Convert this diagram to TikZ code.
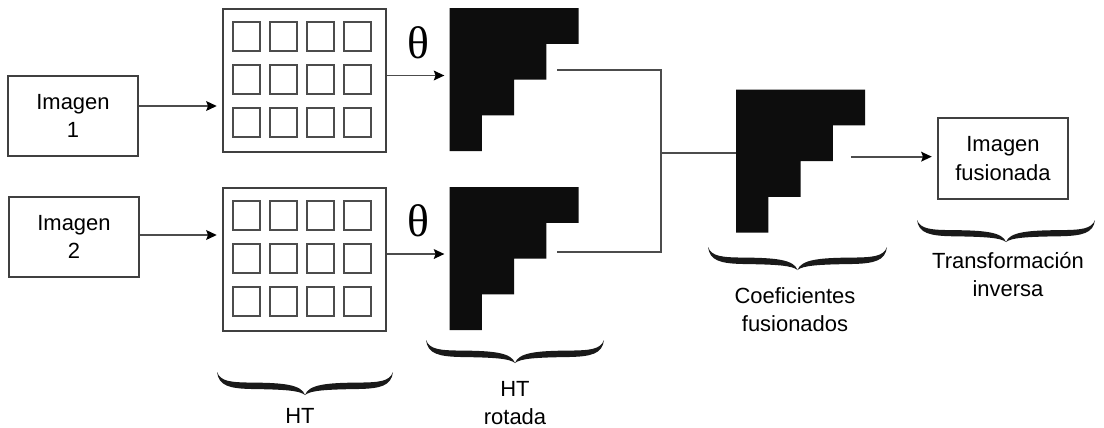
\documentclass[tikz,border=0pt]{standalone}
\usepackage{fontspec}
\setmainfont{Liberation Sans}
\newfontfamily\thetafont{Liberation Serif}
\usetikzlibrary{calc,arrows.meta}
% one arm of a curly brace: end x, tip x, top y, depth
\def\bracearm(#1:#2:#3:#4){\fill[black!90] (#1,#3) .. controls ({#1+0.04*(#2-#1)},{#3+0.42*#4}) and ({#1+0.16*(#2-#1)},{#3+0.45*#4}) .. ({#1+0.4*(#2-#1)},{#3+0.46*#4}) .. controls ({#1+0.76*(#2-#1)},{#3+0.47*#4}) and ({#2-0.04*(#2-#1)},{#3+0.55*#4}) .. (#2,{#3+#4}) .. controls ({#2-0.06*(#2-#1)},{#3+0.8*#4}) and ({#1+0.76*(#2-#1)},{#3+0.76*#4}) .. ({#1+0.4*(#2-#1)},{#3+0.74*#4}) .. controls ({#1+0.14*(#2-#1)},{#3+0.72*#4}) and ({#1+0.02*(#2-#1)},{#3+0.6*#4}) .. cycle;}
\def\hbrace(#1:#2:#3:#4){\pgfmathsetmacro\bmid{(#1+#2)/2}\bracearm(#1:\bmid:#3:#4)\bracearm(#2:\bmid:#3:#4)}
% black staircase of coefficients inside a node
\def\staircase(#1){\fill[black!95] (#1.north west) -- ++(129,0) -- ++(0,35.75) -- ++(-32.25,0) -- ++(0,35.75) -- ++(-32.25,0) -- ++(0,35.75) -- ++(-32.25,0) -- ++(0,35.75) -- ++(-32.25,0) -- cycle;}
\tikzset{
	imgbox/.style={draw=black!75, line width=1.1pt, minimum width=2.6cm, minimum height=1.6cm, inner sep=0, align=center, font=\fontsize{12.5}{16}\selectfont},
	htbox/.style={draw=black!75, line width=1.1pt, minimum width=3.26cm, minimum height=2.86cm, inner sep=0},
	stair/.style={minimum width=2.58cm, minimum height=2.86cm, inner sep=0},
	cell/.style={draw=black!70, line width=1.1pt},
	line/.style={draw=black!70, line width=1pt},
	arr/.style={line, -{Stealth[length=6pt,width=5.5pt,inset=1pt,color=black]}, shorten >=3pt},
	lbl/.style={anchor=north, inner sep=0, align=center, font=\fontsize{12.5}{16}\selectfont},
	theta/.style={font=\thetafont\fontsize{26}{26}\selectfont, inner sep=0}
}
\begin{document}
\begin{tikzpicture}[x=0.02cm, y=-0.02cm]
	\fill[white] (0,0) rectangle (1104,427);
	\useasboundingbox (0,0) rectangle (1104,427);
	
	%%%%% inputs and HT blocks %%%%%
	\node[imgbox] (img1) at (73,116) {Imagen\\1};
	\node[imgbox] (img2) at (74,237) {Imagen\\2};
	
	\node[htbox] (ht1) at (304.5,80.5) {};
	\node[htbox] (ht2) at (304.5,259.5) {};
	\foreach \b in {ht1,ht2}
		\foreach \i in {0,...,3}
			\foreach \j in {0,...,2}
				\draw[cell] ($(\b.north west)+(11+37*\i,14+43*\j)$) rectangle ++(27,29);
	
	%%%%% rotated and fused coefficients %%%%%
	\node[stair] (rot1) at (514.5,80) {};
	\node[stair] (rot2) at (514.5,259) {};
	\node[stair] (coef) at (801,161.5) {};
	\staircase(rot1)
	\staircase(rot2)
	\staircase(coef)
	
	\node[imgbox, minimum height=1.62cm] (fused) at (1003,158.5) {Imagen\\fusionada};
	
	%%%%% connectors %%%%%
	\coordinate (a1) at ($(img1.east)+(0,-10)$);
	\draw[arr] (a1) -- (a1 -| ht1.west);
	\coordinate (a2) at ($(img2.east)+(0,-2)$);
	\draw[arr] (a2) -- (a2 -| ht2.west);
	
	\coordinate (b1) at ($(ht1.east)+(0,-5)$);
	\draw[arr] (b1) -- node[theta, above=0.32cm] (th1) {θ} (b1 -| rot1.west);
	\coordinate (b2) at ($(ht2.east)+(0,-5.5)$);
	\draw[arr] (b2) -- node[theta, above=0.32cm] (th2) {θ} (b2 -| rot2.west);
	
	\coordinate (o1) at ($(rot1.north east)+(-22,62)$);
	\coordinate (o2) at ($(rot2.north east)+(-22,65)$);
	\coordinate (split) at ($(o1)+(104,83)$);
	\draw[line] (o1) -- ++(104,0) |- (o2);
	\draw[line] (split) -- (split -| coef.west);
	
	\coordinate (c1) at ($(coef.north east)+(-15,67)$);
	\draw[arr] (c1) -- (c1 -| fused.west);
	
	%%%%% braces and captions %%%%%
	\hbrace(217:393:372:23)
	\hbrace(426:604:340:23)
	\hbrace(708:887:247:23)
	\hbrace(917:1095:220:22)
	
	\node[lbl] (capht) at (300,408) {HT};
	\node[lbl] (caprot) at (515,381) {HT\\rotada};
	\node[lbl] (capcoef) at (795,287) {Coeficientes\\fusionados};
	\node[lbl] (capinv) at (1008,252) {Transformación\\inversa};
\end{tikzpicture}
\end{document}
